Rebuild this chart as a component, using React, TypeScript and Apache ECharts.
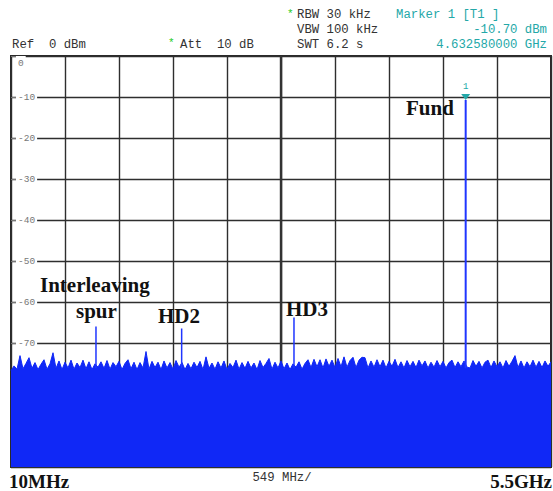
import React, { useEffect, useRef } from "react";
import * as echarts from "echarts";

// ---- data ----
const START_MHZ = 10;
const STOP_MHZ = 5500;
const DIV_MHZ = 549;
const NOISE_STEP_MHZ = 30.5;
const NOISE_DBM = [
  -76.6, -75.4, -76.2, -72.9, -76.1, -74.8, -73.4, -76.0, -74.6, -76.3,
  -75.0, -73.9, -76.2, -74.9, -72.2, -76.0, -74.2, -76.3, -74.5, -75.9,
  -74.0, -76.2, -74.7, -75.8, -74.0, -76.1, -74.4, -76.3, -74.9, -75.7,
  -74.4, -76.0, -74.1, -76.2, -74.6, -75.6, -74.3, -76.3, -74.8, -73.9,
  -76.1, -74.5, -76.3, -74.6, -75.9, -71.9, -76.2, -74.3, -75.8, -74.5,
  -76.3, -74.2, -75.9, -74.6, -76.2, -74.1, -75.7, -74.6, -76.3, -74.8,
  -76.1, -74.5, -75.8, -74.3, -76.3, -73.2, -76.0, -74.7, -76.2, -74.4,
  -75.9, -74.2, -76.3, -74.8, -75.8, -74.0, -76.2, -74.6, -76.0, -74.3,
  -75.9, -74.7, -76.3, -74.1, -75.8, -74.8, -73.6, -76.2, -74.5, -75.9,
  -74.2, -76.1, -74.7, -76.3, -74.9, -75.7, -74.4, -76.2, -74.8, -73.9,
  -75.8, -73.8, -75.6, -73.9, -75.9, -73.7, -75.5, -74.0, -75.8, -73.6,
  -75.6, -73.2, -75.7, -74.1, -73.3, -75.8, -74.0, -73.3, -73.4, -75.9,
  -74.2, -75.7, -73.9, -75.6, -74.0, -75.9, -74.3, -75.5, -73.8, -75.8,
  -74.4, -75.9, -74.1, -75.6, -74.3, -75.8, -74.0, -75.4, -74.2, -75.9,
  -74.5, -75.7, -74.1, -75.6, -74.3, -75.9, -74.6, -74.0, -75.8, -74.4,
  -75.6, -74.2, -75.7, -75.9, -74.1, -75.5, -74.3, -75.9, -74.5, -74.0,
  -75.8, -74.2, -75.6, -74.4, -75.9, -74.1, -75.5, -74.3, -72.9, -75.8,
  -74.2, -75.9, -74.4, -75.6, -74.0, -75.7, -74.3, -75.8, -74.2, -75.5,
  -74.4,
];
const SPUR_LABELS = ["Interleaving spur", "HD2", "HD3", "Fund"];
const SPUR_MHZ = [874, 1745, 2887, 4632.58];
const SPUR_DBM = [-65.8, -66.3, -63.6, -10.7];
const SPUR_FLOOR_DBM = -76;
const Y_MIN = -100;
const Y_MAX = 0;
const Y_STEP = 10;

const TEAL = "#24a8a8";
const BLUE = "#1028f6";
const MONO = '"Liberation Mono", "DejaVu Sans Mono", monospace';
const SERIF = '"Liberation Serif", "Times New Roman", serif';

export default function App() {
  const ref = useRef<HTMLDivElement>(null);

  useEffect(() => {
    document.body.style.margin = "0";
    if (!ref.current) return;
    const chart = echarts.init(ref.current, null, { renderer: "svg" });

    const noiseData = NOISE_DBM.map((v, i) => [i * NOISE_STEP_MHZ, v]);
    const spurSeries = SPUR_MHZ.map((f, k) => {
      const isFund = k === SPUR_MHZ.length - 1;
      const s: any = {
        type: "line",
        name: SPUR_LABELS[k],
        data: [
          [f - START_MHZ, SPUR_FLOOR_DBM],
          [f - START_MHZ, SPUR_DBM[k]],
        ],
        symbol: "none",
        z: 3,
        lineStyle: { color: "#1f36ff", width: isFund ? 2 : 1.5 },
      };
      if (isFund) {
        s.markPoint = {
          z: 5,
          data: [
            {
              coord: [f - START_MHZ, SPUR_DBM[k]],
              symbol: "triangle",
              symbolRotate: 180,
              symbolSize: [9, 6],
              symbolOffset: [0, -3],
              itemStyle: { color: TEAL },
              label: {
                show: true,
                formatter: "1",
                position: "top",
                distance: 2,
                color: TEAL,
                fontSize: 9,
                fontFamily: MONO,
              },
            },
          ],
        };
      }
      return s;
    });

    const hdr = (text: string, x: number, y: number, color = "#333", align = "left") => ({
      type: "text",
      x,
      y,
      z: 10,
      style: {
        text,
        font: `12.3px ${MONO}`,
        fill: color,
        align,
        verticalAlign: "middle",
      },
    });
    const big = (text: string, x: number, y: number, size = 21, align = "left") => ({
      type: "text",
      x,
      y,
      z: 10,
      style: {
        text,
        font: `bold ${size}px ${SERIF}`,
        fill: "#111",
        align,
        verticalAlign: "middle",
      },
    });

    chart.setOption({
      animation: false,
      backgroundColor: "#fff",
      grid: {
        left: 11,
        top: 56,
        width: 540,
        height: 411,
        show: true,
        borderColor: "#2a2a2a",
        borderWidth: 2,
        backgroundColor: "#fff",
        containLabel: false,
        outerBoundsMode: "none",
      },
      xAxis: {
        type: "value",
        min: 0,
        max: STOP_MHZ - START_MHZ,
        interval: DIV_MHZ,
        axisLine: { show: false },
        axisTick: { show: false },
        axisLabel: { show: false },
        splitLine: { show: true, lineStyle: { color: "#2e2e2e", width: 1.4 } },
      },
      yAxis: {
        type: "value",
        min: Y_MIN,
        max: Y_MAX,
        interval: Y_STEP,
        axisLine: { show: false },
        axisTick: { show: true, inside: true, length: 6, lineStyle: { color: "#777" } },
        axisLabel: {
          show: true,
          inside: true,
          margin: 5,
          showMinLabel: false,
          verticalAlignMaxLabel: "top",
          color: "#777",
          fontSize: 9.5,
          fontFamily: MONO,
          backgroundColor: "#fff",
          padding: [2, 2, 0, 2],
          formatter: (v: number) => String(v),
        },
        splitLine: { show: true, lineStyle: { color: "#2e2e2e", width: 1.4 } },
      },
      series: [
        {
          type: "line",
          name: "center",
          data: [
            [DIV_MHZ * 5, Y_MAX],
            [DIV_MHZ * 5, Y_MIN],
          ],
          symbol: "none",
          z: 1,
          lineStyle: { color: "#333", width: 2.4 },
        },
        {
          type: "line",
          name: "trace",
          data: noiseData,
          symbol: "none",
          z: 2,
          lineStyle: { color: BLUE, width: 1 },
          areaStyle: { color: BLUE, opacity: 1, origin: "start" },
        },
        ...spurSeries,
      ],
      graphic: [
        { type: "text", x: 168, y: 43, z: 10, style: { text: "*", font: `11px ${MONO}`, fill: "#22cc22", verticalAlign: "middle" } },
        { type: "text", x: 287, y: 14, z: 10, style: { text: "*", font: `11px ${MONO}`, fill: "#22cc22", verticalAlign: "middle" } },
        hdr("Ref  0 dBm", 12, 45),
        hdr("Att  10 dB", 180, 45),
        hdr("RBW 30 kHz", 297, 15),
        hdr("VBW 100 kHz", 297, 30),
        hdr("SWT 6.2 s", 297, 44.5),
        hdr("Marker 1 [T1 ]", 396, 15, TEAL),
        hdr("-10.70 dBm", 547, 30, TEAL, "right"),
        hdr("4.632580000 GHz", 547, 44.5, TEAL, "right"),
        big("Interleaving", 40, 285),
        big("spur", 76, 311),
        big("HD2", 158, 316),
        big("HD3", 286, 309),
        big("Fund", 406, 108),
        big("10MHz", 9, 481, 19),
        big("5.5GHz", 552, 481, 19, "right"),
        hdr("549 MHz/", 282, 478, "#333", "center"),
      ],
    });

    return () => chart.dispose();
  }, []);

  return <div ref={ref} style={{ width: 553, height: 491 }} />;
}
